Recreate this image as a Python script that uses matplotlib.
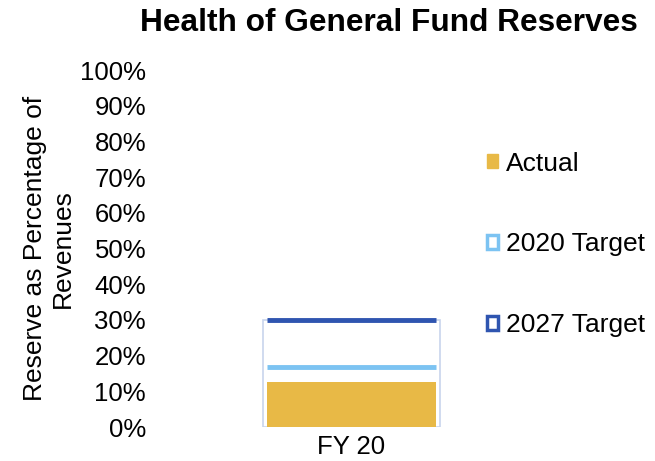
import matplotlib.pyplot as plt
from matplotlib.patches import Patch

plt.rcParams['font.family'] = ['Liberation Sans', 'DejaVu Sans']

categories = ["FY 20"]
actual = [12.6]
target_2020 = [16.7]
target_2027 = [30.0]

gold = "#E8B946"
light_blue = "#7CC3F2"
dark_blue = "#2F55B0"

fig = plt.figure(figsize=(6.55, 4.61), dpi=100)
ax = fig.add_axes([160 / 655, 34 / 461, 383 / 655, 357 / 461])

x = list(range(len(categories)))
w_out = 0.462
w_in = 0.441

# 2027 target: hollow bar with a thin light border and a strong top line
ax.bar(x, target_2027, width=w_out, color="white", edgecolor="#C8D4EC", linewidth=1.2, zorder=1)
ax.bar(x, actual, width=w_in, color=gold, zorder=2)
for xi, t20, t27 in zip(x, target_2020, target_2027):
    ax.hlines(t20, xi - w_in / 2, xi + w_in / 2, color=light_blue, linewidth=3.5, zorder=3)
    ax.hlines(t27, xi - w_in / 2, xi + w_in / 2, color=dark_blue, linewidth=3.5, zorder=3)

ax.set_xlim(-0.5, 0.5)
ax.set_ylim(0, 100)
ax.set_yticks(range(0, 101, 10))
ax.set_yticklabels([f"{v}%" for v in range(0, 101, 10)])
ax.set_xticks(x)
ax.set_xticklabels(categories)
ax.tick_params(length=0, labelsize=18.5, pad=10)
ax.tick_params(axis="x", pad=6)
for s in ax.spines.values():
    s.set_visible(False)

ax.set_ylabel("Reserve as Percentage of\nRevenues", fontsize=19, linespacing=1.2)
ax.yaxis.set_label_coords(-0.222, 0.5)
fig.text(0.593, 0.95, "Health of General Fund Reserves", fontsize=22.8,
         fontweight="bold", ha="center", va="center")

handles = [
    Patch(facecolor=gold, edgecolor=gold, label="Actual"),
    Patch(facecolor="white", edgecolor=light_blue, linewidth=2.5, label="2020 Target"),
    Patch(facecolor="white", edgecolor=dark_blue, linewidth=2.5, label="2027 Target"),
]
fig.legend(handles=handles, loc="upper left", bbox_to_anchor=(476 / 655, 1 - 141 / 461),
           frameon=False, fontsize=19, handlelength=0.45, handleheight=0.45,
           handletextpad=0.3, labelspacing=2.15, borderaxespad=0)

fig.savefig("out.png", dpi=100)
